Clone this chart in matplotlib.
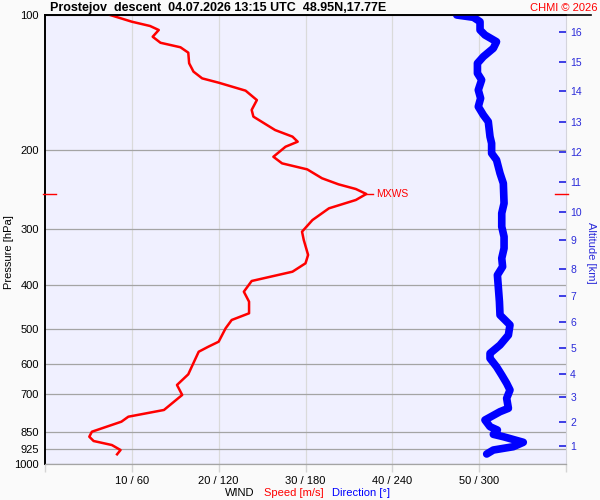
import numpy as np
import matplotlib
matplotlib.use('Agg')
import matplotlib.pyplot as plt
from matplotlib.lines import Line2D
from matplotlib.ticker import NullLocator

plt.rcParams['font.family'] = ['Liberation Sans', 'DejaVu Sans']

title = 'Prostejov  descent  04.07.2026 13:15 UTC  48.95N,17.77E'
credit = 'CHMI \u00a9 2026'

# wind speed profile [m/s] vs pressure [hPa]
speed_p = [100, 103.5, 105.8, 108.0, 111.8, 115.3, 118.0, 121.3, 128.1, 133.7,
           138.4, 141.5, 147.4, 154.7, 162.7, 168.4, 180.4, 186.6, 191.5, 196.5,
           206.9, 214.0, 220.7, 231.0, 238.3, 244.1, 250.4, 258.2, 269.5, 286.2,
           303.8, 317.0, 342.3, 357.3, 373.0, 391.2, 413.3, 435.0, 461.7, 477.8,
           498.6, 534.1, 548.1, 562.3, 607.2, 631.3, 666.8, 701.8, 738.8, 758.0,
           784.6, 804.9, 847.4, 869.4, 888.8, 907.3, 930.8, 951.5]
speed = [7.5, 10.0, 12.1, 13.1, 12.4, 13.3, 15.6, 16.5, 16.6, 17.1,
         18.1, 20.0, 23.1, 24.4, 23.8, 24.0, 26.5, 28.5, 29.1, 27.7,
         26.3, 27.3, 30.2, 31.9, 33.8, 35.8, 37.0, 35.8, 32.7, 30.8,
         29.6, 29.8, 30.3, 30.0, 28.5, 23.8, 22.9, 23.5, 23.5, 21.5,
         20.8, 20.0, 18.8, 17.7, 16.9, 16.5, 15.2, 15.8, 14.4, 13.7,
         9.6, 8.8, 5.4, 5.1, 5.6, 7.7, 8.7, 8.3]

# wind direction profile [deg] vs pressure [hPa]
dir_p = [100, 101.2, 103.5, 108.0, 110.8, 114.7, 118.6, 123.8, 128.1, 134.8,
         139.5, 146.9, 153.3, 160.0, 167.0, 172.8, 186.6, 193.1, 203.2, 210.3,
         225.2, 237.1, 262.7, 276.4, 296.1, 311.7, 330.8, 348.2, 363.5, 379.5,
         406.2, 435.0, 465.8, 490.1, 516.2, 543.3, 567.0, 581.7, 607.2, 633.7,
         661.2, 684.2, 714.0, 751.6, 764.7, 798.0, 825.9, 840.1, 858.9, 869.4,
         894.7, 915.1, 930.8, 950.0]
direction = [284.5, 296, 300.6, 300.6, 304, 312, 309.8, 302.9, 298.8, 298.8,
             301.7, 299.4, 301, 299.4, 302.9, 306.3, 307.5, 308.6, 308.6, 312,
             314.4, 316.7, 317.2, 315.6, 315.6, 317.2, 317.2, 315.6, 316.2, 312.6,
             313.3, 314, 314.4, 321.3, 320.2, 314.4, 307.5, 307.5, 312, 315.6,
             319, 321.3, 319, 320.2, 314.4, 304, 307.5, 312.6, 309.8, 316.7,
             330.5, 323.6, 309.8, 305.2]

# max wind
mxws_p = 250
mxws_speed = 37.0

p_ticks = [100, 200, 300, 400, 500, 600, 700, 850, 925, 1000]
speed_ticks = [0, 10, 20, 30, 40, 50, 60]
x_labels = ['', '10 / 60', '20 / 120', '30 / 180', '40 / 240', '50 / 300', '']

# altitude axis: km and the pressure where it sits
alt_km = list(range(1, 17))
alt_p = [912, 806, 709, 630, 552, 483, 423, 368, 317, 275, 235, 202, 173, 148, 127, 109]

W, H = 600, 500
fig = plt.figure(figsize=(6, 5), dpi=100, facecolor='#fafafa')
ax = fig.add_axes([45 / W, 1 - 464 / H, 521 / W, 449 / H])
ax.set_facecolor('#f0f0ff')

ax.set_yscale('log')
ax.set_ylim(1000, 100)
ax.set_xlim(0, 60)
ax.yaxis.set_minor_locator(NullLocator())
ax.set_yticks(p_ticks)
ax.set_yticklabels([str(p) for p in p_ticks])
ax.set_xticks(speed_ticks)
ax.set_xticklabels(x_labels)
ax.tick_params(axis='y', length=0, pad=4.5, labelsize=8)
ax.tick_params(axis='x', length=6, color='#d4d4d4', width=1, pad=2.5, labelsize=8)

for p in p_ticks:
    ax.axhline(p, color='#a4a4a4', lw=0.9, zorder=1)
for s in speed_ticks[1:-1]:
    ax.axvline(s, color='#dadada', lw=0.9, zorder=0.5)

ax.spines['left'].set_color('black')
ax.spines['left'].set_linewidth(1.4)
ax.spines['top'].set_color('black')
ax.spines['top'].set_linewidth(1.2)
ax.spines['right'].set_color('#d4d4dc')
ax.spines['bottom'].set_color('#a4a4a4')
ax.spines['bottom'].set_linewidth(0.9)

fig.text(9 / W, 1 - 252 / H, 'Pressure [hPa]', rotation=90, fontsize=8,
         ha='center', va='center')

# speed
ax.plot(speed, speed_p, color='red', lw=1.8, zorder=5, solid_joinstyle='round')

# MXWS
ax.plot([mxws_speed, mxws_speed + 0.8], [mxws_p, mxws_p], color='red', lw=1, zorder=5)
ax.text(mxws_speed + 1.1, mxws_p, 'MXWS', color='red', fontsize=7.5, va='center', ha='left')
yt = ax.get_yaxis_transform()
ax.plot([-0.004, 0.021], [mxws_p, mxws_p], color='red', lw=1, transform=yt, clip_on=False, zorder=6)
ax.plot([0.979, 1.004], [mxws_p, mxws_p], color='red', lw=1, transform=yt, clip_on=False, zorder=6)

# direction
ax2 = ax.twiny()
ax2.set_xlim(0, 360)
ax2.set_xticks([])
for sp in ax2.spines.values():
    sp.set_visible(False)
ax2.plot(direction, dir_p, color='blue', lw=5.5, solid_capstyle='round', solid_joinstyle='round')

# altitude
ax3 = ax.twinx()
ax3.set_yscale('log')
ax3.set_ylim(1000, 100)
ax3.yaxis.set_minor_locator(NullLocator())
ax3.set_yticks(alt_p)
ax3.set_yticklabels([str(k) for k in alt_km])
ax3.tick_params(axis='y', direction='in', length=5, width=1.2, color='#2020e0',
                labelcolor='#2b2bd9', labelsize=7.5, pad=3)
for sp in ax3.spines.values():
    sp.set_visible(False)
fig.text(591 / W, 1 - 253 / H, 'Altitude [km]', rotation=270, color='#2b2bd9',
         fontsize=8, ha='center', va='center')

# header
fig.add_artist(Line2D([45 / W, 591 / W], [1 - 15 / H, 1 - 15 / H], color='black', lw=1.2))
fig.text(50 / W, 1 - 11 / H, title, fontsize=9, fontweight='bold', ha='left', va='baseline')
fig.text(597 / W, 1 - 11 / H, credit, fontsize=8, color='red', ha='right', va='baseline')

# footer
fig.text(225 / W, 1 - 496 / H, 'WIND', fontsize=8, ha='left', va='baseline')
fig.text(264 / W, 1 - 496 / H, 'Speed [m/s]', fontsize=8, color='red', ha='left', va='baseline')
fig.text(332 / W, 1 - 496 / H, 'Direction [\u00b0]', fontsize=8, color='blue', ha='left', va='baseline')

fig.savefig('out.png', dpi=100, facecolor=fig.get_facecolor())
